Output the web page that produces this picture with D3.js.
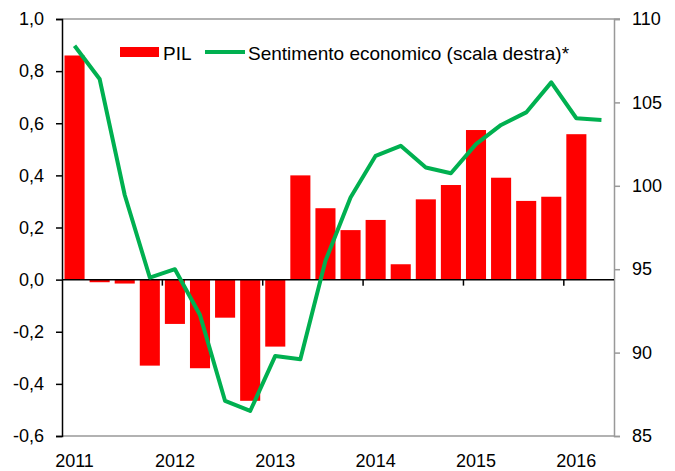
<!DOCTYPE html>
<html>
<head>
<meta charset="utf-8">
<script src="https://cdn.jsdelivr.net/npm/d3@7"></script>
<style>
  body { margin: 0; background: #fff; }
  svg { display: block; font-family: "Liberation Sans", Arial, sans-serif; }
</style>
</head>
<body>
<svg id="chart" width="675" height="471"></svg>
<script>
// quarters 2011Q1 - 2016Q2
var quarters = ["2011T1","2011T2","2011T3","2011T4","2012T1","2012T2","2012T3","2012T4",
                "2013T1","2013T2","2013T3","2013T4","2014T1","2014T2","2014T3","2014T4",
                "2015T1","2015T2","2015T3","2015T4","2016T1","2016T2"];
// PIL, variazione congiunturale (no dato per 2016T2)
var pil = [0.86, -0.01, -0.015, -0.33, -0.17, -0.34, -0.146, -0.465,
           -0.257, 0.40, 0.274, 0.19, 0.229, 0.059, 0.308, 0.363,
           0.574, 0.391, 0.302, 0.318, 0.558, null];
// sentimento economico (scala destra)
var sentimento = [108.4, 106.4, 99.45, 94.5, 95.0, 92.25, 87.1, 86.5,
                  89.8, 89.6, 95.5, 99.3, 101.8, 102.4, 101.1, 100.75,
                  102.5, 103.65, 104.4, 106.2, 104.05, 103.95];
var leftTicks = [-0.6, -0.4, -0.2, 0, 0.2, 0.4, 0.6, 0.8, 1.0];
var rightTicks = [85, 90, 95, 100, 105, 110];
var years = ["2011","2012","2013","2014","2015","2016"];

var svg = d3.select("#chart");
var plotLeft = 62, plotRight = 614, plotTop = 19, plotBottom = 436;
var fs = 18;

var x = d3.scaleBand().domain(quarters).range([plotLeft, plotRight]).paddingInner(0.2).paddingOuter(0.1);
var y = d3.scaleLinear().domain([-0.6, 1.0]).range([plotBottom, plotTop]);
var y2 = d3.scaleLinear().domain([85, 110]).range([plotBottom, plotTop]);
var comma = function (d) { return d3.format(".1f")(d).replace(".", ",").replace("−", "-"); };

// bars
svg.append("g").selectAll("rect")
    .data(quarters.filter(function (q, i) { return pil[i] !== null; }))
    .enter().append("rect")
    .attr("x", function (q) { return x(q); })
    .attr("width", x.bandwidth())
    .attr("y", function (q) { var v = pil[quarters.indexOf(q)]; return y(Math.max(0, v)); })
    .attr("height", function (q) { var v = pil[quarters.indexOf(q)]; return Math.abs(y(v) - y(0)); })
    .attr("fill", "#ff0000");

// frame: top + bottom grey lines
svg.append("line").attr("x1", plotLeft).attr("x2", plotRight + 6).attr("y1", plotTop).attr("y2", plotTop)
    .attr("stroke", "#999").attr("stroke-width", 1.5);
svg.append("line").attr("x1", plotLeft).attr("x2", plotRight).attr("y1", plotBottom).attr("y2", plotBottom)
    .attr("stroke", "#999").attr("stroke-width", 1.5);

// left axis
var gl = svg.append("g").attr("transform", "translate(" + plotLeft + ",0)")
    .call(d3.axisLeft(y).tickValues(leftTicks).tickSize(6).tickPadding(12).tickFormat(comma));
gl.selectAll("path, line").attr("stroke", "#000").attr("stroke-width", 1.5);
gl.selectAll("text").attr("font-size", fs).attr("fill", "#000").attr("font-family", "Liberation Sans, Arial, sans-serif");

// right axis
var gr = svg.append("g").attr("transform", "translate(" + plotRight + ",0)")
    .call(d3.axisRight(y2).tickValues(rightTicks).tickSize(6).tickPadding(12));
gr.selectAll("path, line").attr("stroke", "#999").attr("stroke-width", 1.5);
gr.selectAll("text").attr("font-size", fs).attr("fill", "#000").attr("font-family", "Liberation Sans, Arial, sans-serif");

// zero line with year ticks
var step = x.step();
svg.append("line").attr("x1", plotLeft).attr("x2", plotRight).attr("y1", y(0)).attr("y2", y(0))
    .attr("stroke", "#000").attr("stroke-width", 1.5);
svg.append("g").selectAll("line")
    .data(years.slice(1))
    .enter().append("line")
    .attr("x1", function (yr) { return x(yr + "T1") - (step - x.bandwidth()) / 2; })
    .attr("x2", function (yr) { return x(yr + "T1") - (step - x.bandwidth()) / 2; })
    .attr("y1", y(0)).attr("y2", y(0) + 6)
    .attr("stroke", "#000").attr("stroke-width", 1.5);

// year labels under Q1
svg.append("g").selectAll("text")
    .data(years)
    .enter().append("text")
    .attr("x", function (yr) { return x(yr + "T1") + x.bandwidth() / 2; })
    .attr("y", 467)
    .attr("text-anchor", "middle")
    .attr("font-size", fs)
    .text(function (yr) { return yr; });

// sentiment line
var line = d3.line()
    .x(function (d, i) { return x(quarters[i]) + x.bandwidth() / 2; })
    .y(function (d) { return y2(d); });
svg.append("path").datum(sentimento)
    .attr("d", line)
    .attr("fill", "none")
    .attr("stroke", "#00b050")
    .attr("stroke-width", 4)
    .attr("stroke-linejoin", "round");

// legend
var lg = svg.append("g");
lg.append("rect").attr("x", 120).attr("y", 47).attr("width", 39).attr("height", 10).attr("fill", "#ff0000");
lg.append("text").attr("x", 163).attr("y", 60).attr("font-size", 19).text("PIL");
lg.append("line").attr("x1", 205).attr("x2", 245).attr("y1", 52).attr("y2", 52)
    .attr("stroke", "#00b050").attr("stroke-width", 4);
lg.append("text").attr("x", 248).attr("y", 60).attr("font-size", 19).text("Sentimento economico (scala destra)*");
</script>
</body>
</html>
